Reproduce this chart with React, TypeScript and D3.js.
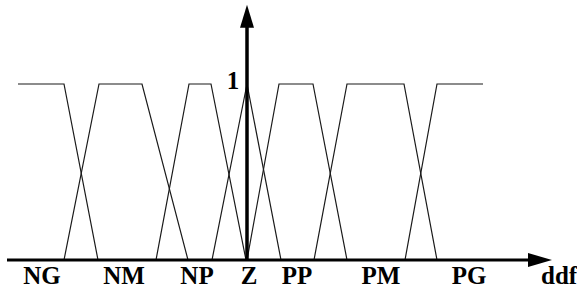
import React from "react";
import * as d3 from "d3";

// Fuzzy set labels and their membership breakpoints (x in ddf units, y membership)
const setNames = ["NG", "NM", "NP", "Z", "PP", "PM", "PG"];
const NG = [[-229, 1], [-183, 1], [-149, 0]];
const NM = [[-183, 0], [-148, 1], [-105, 1], [-59, 0]];
const NP = [[-91, 0], [-58, 1], [-36, 1], [-1, 0]];
const Z = [[-35, 0], [0, 1], [34, 0]];
const PP = [[0, 0], [32, 1], [66, 1], [100, 0]];
const PM = [[67, 0], [100, 1], [157, 1], [190, 0]];
const PG = [[158, 0], [190, 1], [236, 1]];
const sets = [NG, NM, NP, Z, PP, PM, PG];
const labelPositions = [-205, -123, -50, 2, 50, 134, 222];
const axisLabel = "ddf";
const yTickLabel = "1";

export default function App() {
  const W = 577, H = 290;
  const x = d3.scaleLinear().domain([-240, 305]).range([7, 552]);
  const y = d3.scaleLinear().domain([0, 1]).range([260, 84]);
  const line = d3.line<number[]>().x(d => x(d[0])).y(d => y(d[1]));
  const x0 = x(0);
  const textStyle = { fontFamily: "'Liberation Serif', 'Times New Roman', serif", fontSize: "25px", fontWeight: 700 as const };
  const xEnd = x(305);
  const yTop = y(1.45);
  return (
    <svg width={W} height={H} style={{ position: "absolute", left: 0, top: 0, background: "#fff" }}>
      {sets.map((s, i) => (
        <path key={i} d={line(s) || ""} fill="none" stroke="#1a1a1a" strokeWidth={1.2} />
      ))}
      {/* x axis */}
      <line x1={x(-240)} x2={xEnd - 18} y1={y(0)} y2={y(0)} stroke="#000" strokeWidth={3} />
      <path d={`M${xEnd},${y(0)} L${xEnd - 24},${y(0) - 7} L${xEnd - 24},${y(0) + 7} Z`} fill="#000" />
      {/* y axis */}
      <line x1={x0} x2={x0} y1={y(0)} y2={yTop + 18} stroke="#000" strokeWidth={3.5} />
      <path d={`M${x0},${yTop} L${x0 - 7},${yTop + 23} L${x0 + 7},${yTop + 23} Z`} fill="#000" />
      {setNames.map((n, i) => (
        <text key={n} x={x(labelPositions[i])} y={284} textAnchor="middle" style={textStyle} fill="#000">{n}</text>
      ))}
      <text x={541} y={284} textAnchor="start" style={textStyle} fill="#000">{axisLabel}</text>
      <text x={x0 - 14} y={y(1) + 5} textAnchor="middle" style={textStyle} fill="#000">{yTickLabel}</text>
    </svg>
  );
}
